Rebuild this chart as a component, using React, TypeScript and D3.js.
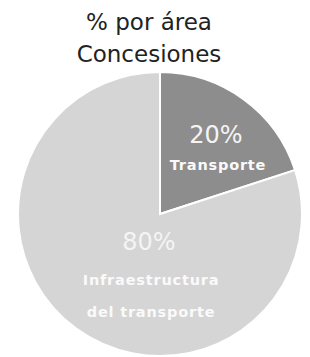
import { useEffect, useRef } from 'react';
import * as d3 from 'd3';

// datos del gráfico
const titleLines = ['% por área', 'Concesiones'];
const categories = ['Transporte', 'Infraestructura del transporte'];
const values = [20, 80];
const percentLabels = ['20%', '80%'];
const nameLines = [['Transporte'], ['Infraestructura', 'del transporte']];
const colors = ['#8d8d8d', '#d5d5d5'];

const PieChart = () => {
  const ref = useRef<SVGSVGElement | null>(null);

  useEffect(() => {
    const width = 310;
    const height = 357;
    const cx = 160;
    const cy = 214;
    const radius = 142;

    const svg = d3.select(ref.current);
    svg.selectAll('*').remove();
    svg.attr('width', width).attr('height', height);

    // título
    svg
      .append('g')
      .selectAll('text')
      .data(titleLines)
      .join('text')
      .attr('x', 149)
      .attr('y', (d, i) => 30 + i * 32)
      .attr('text-anchor', 'middle')
      .style('font-family', '"DejaVu Sans", Verdana, sans-serif')
      .style('font-size', '23px')
      .style('fill', '#222')
      .text((d) => d);

    const data = categories.map((c, i) => ({ name: c, value: values[i], color: colors[i] }));

    const pie = d3
      .pie<{ name: string; value: number; color: string }>()
      .sort(null)
      .value((d) => d.value);

    const arc = d3
      .arc<d3.PieArcDatum<{ name: string; value: number; color: string }>>()
      .innerRadius(0)
      .outerRadius(radius);

    const g = svg.append('g').attr('transform', `translate(${cx},${cy})`);

    g.selectAll('path')
      .data(pie(data))
      .join('path')
      .attr('d', arc)
      .style('fill', (d) => d.data.color)
      .style('stroke', '#fff')
      .style('stroke-width', '2px');

    // etiquetas: posición relativa al centro del sector
    const labelPos = [
      [56, -71],
      [-11, 36],
    ];

    percentLabels.forEach((p, i) => {
      const [lx, ly] = labelPos[i];
      g.append('text')
        .attr('x', lx)
        .attr('y', ly)
        .attr('text-anchor', 'middle')
        .style('font-family', '"DejaVu Sans", Verdana, sans-serif')
        .style('font-size', '24px')
        .style('fill', '#f4f4f4')
        .text(p);

      nameLines[i].forEach((line, j) => {
        g.append('text')
          .attr('x', lx + 2)
          .attr('y', ly + 27 + j * 32 + (i === 1 ? 8 : 0))
          .attr('text-anchor', 'middle')
          .style('font-family', '"DejaVu Sans", Verdana, sans-serif')
          .style('font-size', '14.5px')
          .style('letter-spacing', '0.8px')
          .style('font-weight', 'bold')
          .style('fill', '#fafafa')
          .text(line);
      });
    });
  }, []);

  return <svg ref={ref} style={{ position: 'absolute', left: 0, top: 0 }}></svg>;
};

export default function App() {
  return <PieChart />;
}
